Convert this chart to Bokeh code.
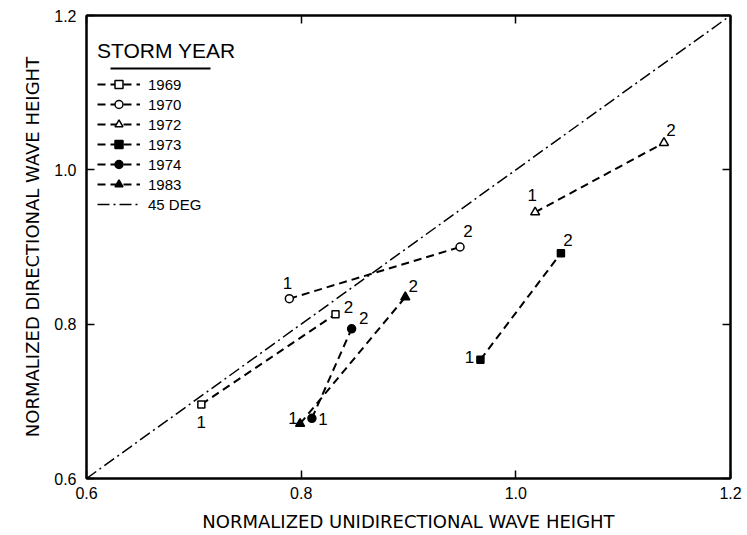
from bokeh.plotting import figure
from bokeh.models import (Legend, LegendItem, LinearAxis, FixedTicker, ColumnDataSource,
                          BoxAnnotation, Range1d)
from bokeh.embed import file_html
from bokeh.resources import INLINE
from bokeh.core.properties import value

# ---------------- data ----------------
years = ["1969", "1970", "1972", "1973", "1974", "1983"]
uni_1 = [0.707, 0.789, 1.018, 0.967, 0.810, 0.799]
dir_1 = [0.696, 0.833, 0.945, 0.754, 0.678, 0.671]
uni_2 = [0.832, 0.948, 1.138, 1.042, 0.847, 0.897]
dir_2 = [0.813, 0.900, 1.035, 0.892, 0.794, 0.835]
diag_x = [0.6, 1.2]
diag_y = [0.6, 1.2]
ticks = [0.6, 0.8, 1.0, 1.2]
tick_labels = ["0.6", "0.8", "1.0", "1.2"]
x_title = "NORMALIZED UNIDIRECTIONAL WAVE HEIGHT"
y_title = "NORMALIZED DIRECTIONAL WAVE HEIGHT"

# ---------------- styles ----------------
markers = ["square", "circle", "triangle", "square", "circle", "triangle"]
fills = ["white", "white", "white", "black", "black", "black"]
msizes = [7, 8, 9, 7, 8, 9]
off1x = [0, -2, -3, -11, 11, -7]
off1y = [18, -16, -17, -3, 1, -6]
off2x = [13, 8, 7, 7, 12, 8]
off2y = [-7, -16, -13, -13, -11, -11]

FONT = "Liberation Sans"
LFONT = "DejaVu Sans"

p = figure(frame_width=644, frame_height=463,
           x_range=Range1d(0.6, 1.2), y_range=Range1d(0.6, 1.2),
           output_backend="svg", toolbar_location=None,
           min_border_left=86, min_border_right=14, min_border_top=15, min_border_bottom=55)
p.xgrid.visible = False
p.ygrid.visible = False
p.outline_line_color = "black"
p.outline_line_width = 2
p.background_fill_color = "white"
p.border_fill_color = "white"

def style_axis(ax, show_labels=True):
    ax.ticker = FixedTicker(ticks=ticks)
    ax.major_label_overrides = {t: l for t, l in zip(ticks, tick_labels)}
    ax.axis_line_width = 2
    ax.axis_line_color = "black"
    ax.major_tick_in = 8
    ax.major_tick_out = 0
    ax.major_tick_line_width = 1.5
    ax.minor_tick_in = 0
    ax.minor_tick_out = 0
    ax.major_label_text_font = FONT
    ax.major_label_text_font_size = "16px"
    ax.major_label_text_color = "black"
    ax.axis_label_text_font = LFONT
    ax.axis_label_text_font_style = "normal"
    ax.axis_label_text_color = "black"
    if not show_labels:
        ax.major_label_text_font_size = "1px"
        ax.major_label_text_color = None
        ax.major_label_standoff = 0

style_axis(p.xaxis[0])
style_axis(p.yaxis[0])
p.xaxis.axis_label = x_title
p.yaxis.axis_label = y_title
p.xaxis.axis_label_text_font_size = "18px"
p.yaxis.axis_label_text_font_size = "18px"
p.xaxis.major_label_standoff = 8
p.xaxis.axis_label_standoff = 9
p.yaxis.major_label_standoff = 10
p.yaxis.axis_label_standoff = 8

top_ax = LinearAxis()
style_axis(top_ax, show_labels=False)
right_ax = LinearAxis()
style_axis(right_ax, show_labels=False)
p.add_layout(top_ax, "above")
p.add_layout(right_ax, "right")

# 45 degree line
diag_r = p.line(diag_x, diag_y, line_color="black", line_width=1.5, line_dash="12 4 2 4")

items = []
for i, yr in enumerate(years):
    xs = [uni_1[i], uni_2[i]]
    ys = [dir_1[i], dir_2[i]]
    lr = p.line(xs, ys, line_color="black", line_width=2, line_dash="8 5")
    sr = p.scatter(xs, ys, marker=markers[i], size=msizes[i], fill_color=fills[i],
                   line_color="black", line_width=1.5)
    items.append(LegendItem(label=yr, renderers=[lr, sr]))
    src = ColumnDataSource(dict(x=xs, y=ys, t=["1", "2"],
                                dx=[off1x[i], off2x[i]], dy=[off1y[i], off2y[i]]))
    p.text(x="x", y="y", text="t", x_offset="dx", y_offset="dy", source=src,
           text_font=value(FONT), text_font_size="17px", text_color="black",
           text_align="center", text_baseline="middle")
items.append(LegendItem(label="45 DEG", renderers=[diag_r]))

legend = Legend(items=items, location=(11, 264), title="STORM YEAR",
                title_text_font=FONT, title_text_font_size="21px", title_text_font_style="normal",
                title_text_color="black", title_standoff=11,
                label_text_font=FONT, label_text_font_size="15px", label_text_color="black",
                glyph_width=43, glyph_height=20, label_height=20, label_standoff=8,
                spacing=0, padding=0, margin=0,
                border_line_alpha=0, background_fill_alpha=0)
p.add_layout(legend, "center")

# underline of legend title
p.add_layout(BoxAnnotation(left=24, right=124, top=411, bottom=409,
                           left_units="screen", right_units="screen",
                           top_units="screen", bottom_units="screen",
                           fill_color="black", fill_alpha=1, line_alpha=0))

open("out.html", "w").write(file_html(p, INLINE))
